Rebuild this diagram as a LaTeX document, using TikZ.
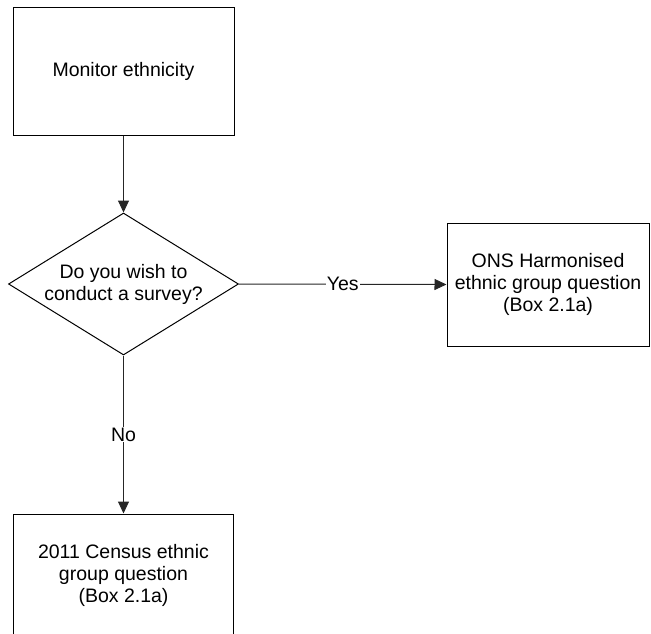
\documentclass[tikz,border=0pt]{standalone}
\usepackage{fontspec}
\setmainfont{Liberation Sans}
\usetikzlibrary{shapes.geometric,arrows.meta}
\begin{document}
\begin{tikzpicture}[x=1pt,y=-1pt,
  every node/.style={font=\fontsize{19.5}{22}\selectfont},
  box/.style={draw=black, line width=1pt, align=center, inner sep=0pt, rectangle},
  decision/.style={draw=black, line width=1pt, align=center, inner sep=0pt, diamond, aspect=1.62},
  conn/.style={draw=black!85, line width=1pt, -{Triangle[length=12pt,width=11pt]}},
  lbl/.style={fill=white, inner sep=1pt}]
\useasboundingbox (0,0) rectangle (651,634);
\clip (0,0) rectangle (651,634);
\node[box, minimum width=221pt, minimum height=127pt] (mon) at (123.5,71.5) {Monitor ethnicity};
\node[decision, minimum width=230pt, minimum height=142pt] (q) at (123.5,284) {Do you wish to\\conduct a survey?};
\node[box, minimum width=202pt, minimum height=123pt] (ons) at (548,284.5) {ONS Harmonised\\ethnic group question\\(Box 2.1a)};
\node[box, minimum width=220pt, minimum height=122pt] (cen) at (123.5,575) {2011 Census ethnic\\group question\\(Box 2.1a)};
\draw[conn] (mon.south) -- (q.north);
\draw[conn] (q.east) -- node[lbl] (yes) {Yes} (ons.west);
\draw[conn] (q.south) -- node[lbl] (no) {No} (cen.north);
\end{tikzpicture}
\end{document}
